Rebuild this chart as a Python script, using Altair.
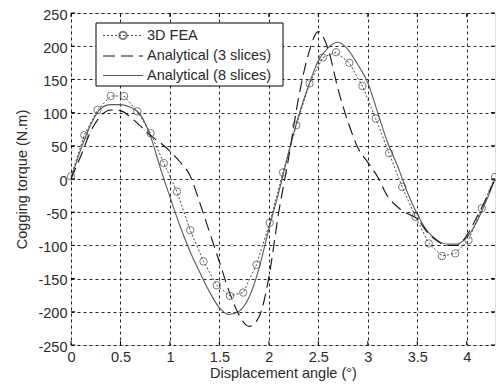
import altair as alt
import pandas as pd

# ---------------- data ----------------
fea_x = [0.0, 0.134, 0.268, 0.402, 0.536, 0.670, 0.804, 0.938, 1.071, 1.205,
         1.339, 1.473, 1.607, 1.741, 1.875, 2.009, 2.143, 2.277, 2.411, 2.545,
         2.679, 2.813, 2.946, 3.080, 3.214, 3.348, 3.482, 3.616, 3.750, 3.884,
         4.018, 4.152, 4.286]
fea_y = [4, 66, 104, 125, 125, 102, 69, 24, -19, -77,
         -124, -160, -176, -171, -129, -66, 10, 81, 144, 183,
         191, 175, 140, 91, 39, -12, -57, -97, -116, -112,
         -92, -44, 3]

an_x = [0.0, 0.1, 0.2, 0.3, 0.4, 0.5, 0.6, 0.7, 0.8, 0.9,
        1.0, 1.1, 1.2, 1.3, 1.4, 1.5, 1.6, 1.7, 1.8, 1.9,
        2.0, 2.1, 2.2, 2.3, 2.4, 2.5, 2.6, 2.7, 2.8, 2.9,
        3.0, 3.1, 3.2, 3.3, 3.4, 3.5, 3.6, 3.7, 3.8, 3.9,
        4.0, 4.1, 4.2, 4.286]
an3_y = [0, 35, 72, 95, 104, 103, 93, 80, 66, 55,
         42, 26, 6, -35, -80, -125, -170, -205, -222, -208,
         -148, -50, 32, 122, 188, 222, 195, 135, 86, 47,
         25, 3, -26, -42, -52, -60, -80, -93, -100, -100,
         -85, -58, -28, 0]
an8_y = [0, 45, 82, 106, 112, 112, 108, 97, 66, 18,
         -27, -70, -108, -140, -170, -194, -204, -199, -178, -135,
         -75, -20, 40, 95, 140, 178, 198, 206, 195, 172,
         145, 100, 55, 20, -20, -53, -78, -92, -98, -98,
         -88, -65, -32, 0]

x_ticks = [0, 0.5, 1, 1.5, 2, 2.5, 3, 3.5, 4]
y_ticks = [-250, -200, -150, -100, -50, 0, 50, 100, 150, 200, 250]
legend_labels = ["3D FEA", "Analytical (3 slices)", "Analytical (8 slices)"]

# ---------------- chart ----------------
W, H = 424, 332
FONT = "Liberation Sans"
TXT = "#2a2a2a"
FS = 14.5

fea = pd.DataFrame({"x": fea_x, "y": fea_y})
an3 = pd.DataFrame({"x": an_x, "y": an3_y})
an8 = pd.DataFrame({"x": an_x, "y": an8_y})
xt = pd.DataFrame({"x": x_ticks})
yt = pd.DataFrame({"y": y_ticks})
one = pd.DataFrame({"k": [0]})

xs = alt.Scale(domain=[0, 4.2857], nice=False, zero=False)
ys = alt.Scale(domain=[-250, 250], nice=False, zero=False)

common = dict(labelExpr="toString(datum.value)", grid=True,
              gridColor="#000000", gridDash=[3, 3], gridOpacity=0.85,
              domain=False, ticks=False, labelOverlap=False, labelFlush=False,
              labelFontSize=FS, titleFontSize=FS, titleFontWeight="normal",
              labelFont=FONT, titleFont=FONT, labelColor=TXT, titleColor=TXT)
xaxis = alt.Axis(values=x_ticks, title="Displacement angle (°)",
                 labelPadding=5, titlePadding=3, **common)
yaxis = alt.Axis(values=y_ticks, title="Cogging torque (N.m)",
                 labelPadding=4, titlePadding=8, labelOffset=2, **common)

X = alt.X("x:Q", scale=xs, axis=xaxis)
Y = alt.Y("y:Q", scale=ys, axis=yaxis)

line8 = alt.Chart(an8).mark_line(color="#5a5a5a", strokeWidth=1.1,
                                 interpolate="monotone").encode(x=X, y=Y)
line3 = alt.Chart(an3).mark_line(color="#111111", strokeWidth=1.1,
                                 strokeDash=[12, 6],
                                 interpolate="monotone").encode(x=X, y=Y)
fea_line = alt.Chart(fea).mark_line(color="#444444", strokeWidth=1,
                                    strokeDash=[2, 2]).encode(x=X, y=Y)
fea_pts = alt.Chart(fea).mark_point(shape="circle", filled=False, size=55,
                                    color="#444444", strokeWidth=1).encode(x=X, y=Y)

# inward ticks on the four sides (Matlab style)
tk = 4
tick_b = alt.Chart(xt).mark_rule(color="#000000").encode(
    x=X, y=alt.value(H - tk), y2=alt.value(H))
tick_t = alt.Chart(xt).mark_rule(color="#000000").encode(
    x=X, y=alt.value(0), y2=alt.value(tk))
tick_l = alt.Chart(yt).mark_rule(color="#000000").encode(
    y=Y, x=alt.value(0), x2=alt.value(tk))
tick_r = alt.Chart(yt).mark_rule(color="#000000").encode(
    y=Y, x=alt.value(W - tk), x2=alt.value(W))

# legend (manual, top-left inside plot)
lx0, lx1, ly0, ly1 = 25, 212, 10, 73
rows = [22.5, 43, 62.5]
leg_box = alt.Chart(one).mark_rect(fill="white", stroke="#000000",
                                   strokeWidth=1).encode(
    x=alt.value(lx0), x2=alt.value(lx1), y=alt.value(ly0), y2=alt.value(ly1))
leg_fea = alt.Chart(one).mark_rule(color="#444444", strokeDash=[2, 2]).encode(
    x=alt.value(32), x2=alt.value(72), y=alt.value(rows[0]))
leg_fea_pt = alt.Chart(one).mark_point(shape="circle", filled=False, size=55,
                                       color="#444444").encode(
    x=alt.value(52), y=alt.value(rows[0]))
leg_3 = alt.Chart(one).mark_rule(color="#111111", strokeDash=[12, 6]).encode(
    x=alt.value(32), x2=alt.value(72), y=alt.value(rows[1]))
leg_8 = alt.Chart(one).mark_rule(color="#5a5a5a").encode(
    x=alt.value(32), x2=alt.value(72), y=alt.value(rows[2]))
leg_texts = [
    alt.Chart(one).mark_text(align="left", baseline="middle", font=FONT,
                             fontSize=FS, color=TXT).encode(
        x=alt.value(76), y=alt.value(r), text=alt.value(t))
    for r, t in zip(rows, legend_labels)
]

chart = alt.layer(
    line8, line3, fea_line, fea_pts, tick_b, tick_t, tick_l, tick_r,
    leg_box, leg_fea, leg_fea_pt, leg_3, leg_8, *leg_texts
).properties(
    width=W, height=H,
    autosize=alt.AutoSizeParams(type="none"),
    padding={"left": 63, "top": 5, "right": 1, "bottom": 39},
).configure_view(stroke="#000000", strokeWidth=1
).configure_axis(labelOverlap=False
).configure(background="white")

chart.save("out.html", embed_options={"renderer": "svg", "actions": False})
